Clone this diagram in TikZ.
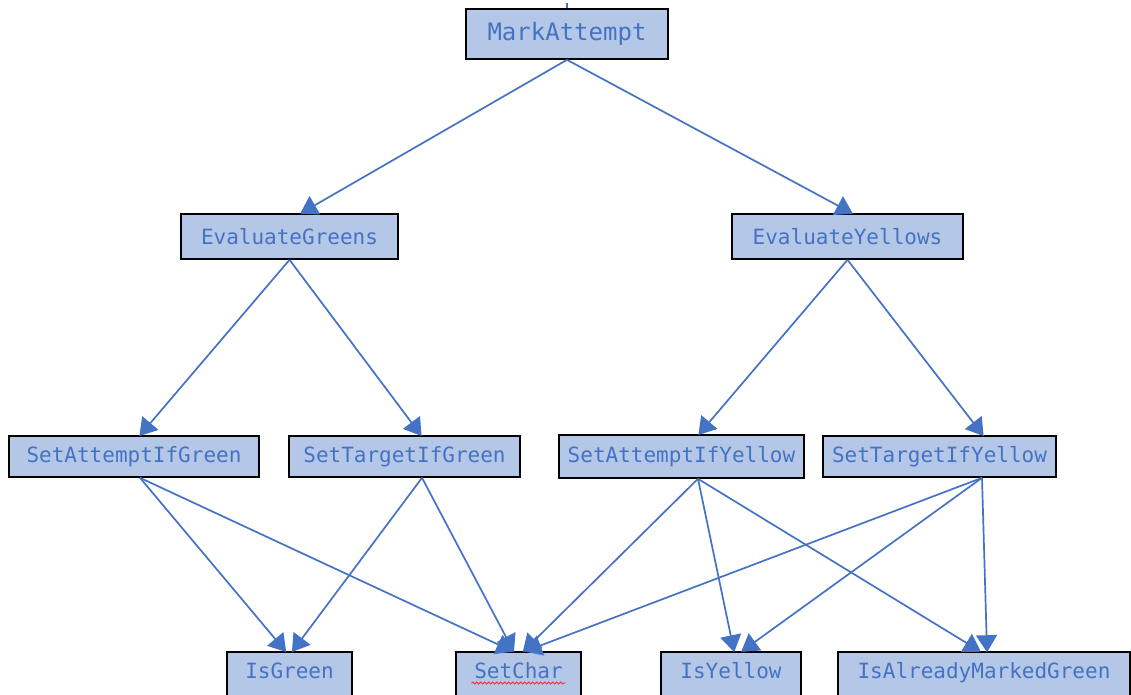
\documentclass[tikz,border=0pt]{standalone}
\usepackage{fontspec}
\newfontfamily\codefont{DejaVu Sans Mono}
\usetikzlibrary{arrows.meta,decorations.pathmorphing}
\definecolor{boxfill}{HTML}{B4C7E7}
\definecolor{linkblue}{HTML}{4472C4}
\tikzset{
  box/.style={draw=black, line width=1.6pt, fill=boxfill, text=linkblue,
    font=\codefont\fontsize{21}{24}\selectfont, inner sep=0pt, anchor=center},
  lowbox/.style={box, text height=15pt, text depth=9pt},
  arr/.style={draw=linkblue, line width=1.7pt, -{Triangle[length=17pt,width=21pt]}, shorten >=-1pt},
}
\begin{document}
\begin{tikzpicture}[x=1pt,y=1pt]
\useasboundingbox (0,0) rectangle (1131,-694);
% top
\node[box, minimum width=202, minimum height=50, font=\codefont\fontsize{24}{28}\selectfont] (ma) at (567,-34) {MarkAttempt};
% second layer
\node[box, minimum width=217, minimum height=45] (eg) at (289.5,-236.5) {EvaluateGreens};
\node[box, minimum width=231, minimum height=45] (ey) at (847.5,-236.5) {EvaluateYellows};
% third layer
\node[box, minimum width=250, minimum height=41] (sag) at (134,-456.5) {SetAttemptIfGreen};
\node[box, minimum width=231, minimum height=41] (stg) at (404.5,-456.5) {SetTargetIfGreen};
\node[box, minimum width=245, minimum height=43] (say) at (681.5,-456.5) {SetAttemptIfYellow};
\node[box, minimum width=233, minimum height=41] (sty) at (939.5,-456.5) {SetTargetIfYellow};
% bottom layer
\node[lowbox, minimum width=125, minimum height=46] (ig) at (289.5,-675) {IsGreen};
\node[lowbox, minimum width=125, minimum height=46] (sc) at (518.5,-675) {SetChar};
\node[lowbox, minimum width=140, minimum height=46] (iy) at (731,-675) {IsYellow};
\node[lowbox, minimum width=292, minimum height=46] (iam) at (984,-675) {IsAlreadyMarkedGreen};
% spell-check underline under SetChar
\coordinate (sqa) at ([xshift=-47,yshift=-8]sc.center);
\coordinate (sqb) at ([xshift=47,yshift=-8]sc.center);
\draw[red!85!white, line width=0.8pt, decorate, decoration={snake, amplitude=1pt, segment length=4pt}] (sqa) -- (sqb);
% small tick above MarkAttempt
\coordinate (tick) at ([yshift=5]ma.north);
\draw[linkblue, line width=1.3pt] (ma.north) -- (tick);
% edges top
\draw[arr] (ma.south) -- ([xshift=11.5]eg.north);
\draw[arr] (ma.south) -- ([xshift=4.5]ey.north);
\draw[arr] (eg.south) -- ([xshift=6]sag.north);
\draw[arr] (eg.south) -- ([xshift=16.5]stg.north);
\draw[arr] (ey.south) -- ([xshift=17.5]say.north);
\draw[arr] (ey.south) -- ([xshift=43.5]sty.north);
% edges bottom
\draw[arr] ([xshift=6]sag.south) -- ([xshift=-4]ig.north);
\draw[arr] ([xshift=6]sag.south) -- ([xshift=-6]sc.north);
\draw[arr] ([xshift=17.5]stg.south) -- ([xshift=3]ig.north);
\draw[arr] ([xshift=17.5]stg.south) -- ([xshift=-5]sc.north);
\draw[arr] ([xshift=16.5]say.south) -- ([xshift=5]sc.north);
\draw[arr] ([xshift=16.5]say.south) -- ([xshift=3]iy.north);
\draw[arr] ([xshift=16.5]say.south) -- ([xshift=-4]iam.north);
\draw[arr] ([xshift=42.5]sty.south) -- ([xshift=7]sc.north);
\draw[arr] ([xshift=42.5]sty.south) -- ([xshift=11]iy.north);
\draw[arr] ([xshift=42.5]sty.south) -- ([xshift=3]iam.north);
\end{tikzpicture}
\end{document}
